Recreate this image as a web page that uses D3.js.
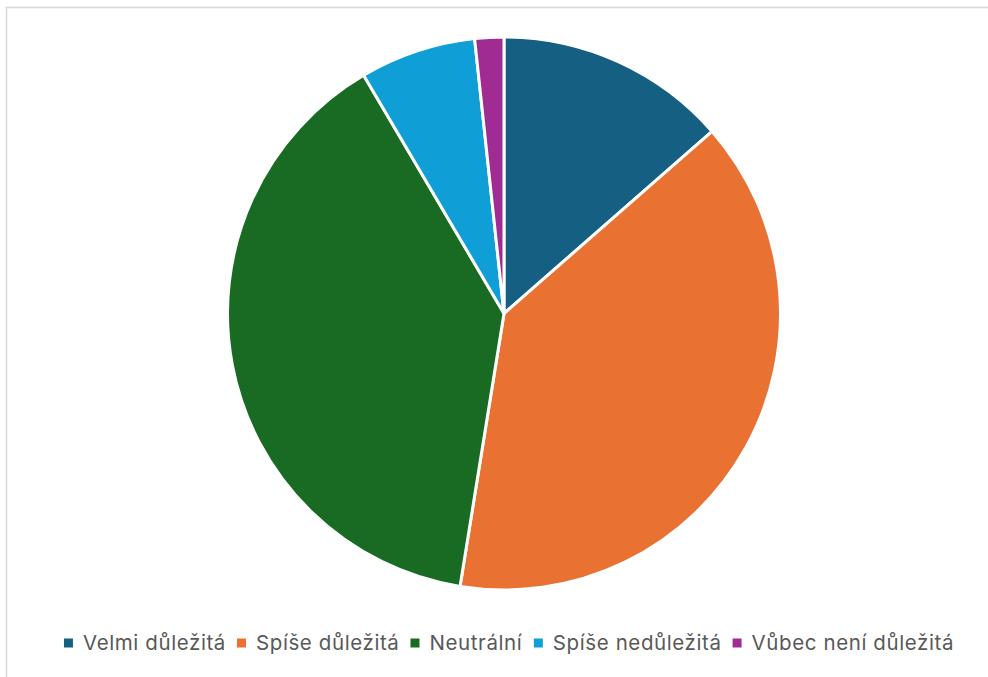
<!DOCTYPE html>
<html><head><meta charset="utf-8">
<script src="https://cdn.jsdelivr.net/npm/d3@7"></script>
<style>body{margin:0;background:#fff}svg{display:block}</style>
</head><body>
<script>
const categories = ["Velmi důležitá","Spíše důležitá","Neutrální","Spíše nedůležitá","Vůbec není důležitá"];
const values = [8,23,23,4,1];
const colors = ["#156082","#E97132","#196B24","#0F9ED5","#A02B93"];

const W=988,H=677;
const svg=d3.select("body").append("svg").attr("width",W).attr("height",H);
svg.append("rect").attr("x",6.5).attr("y",7.5).attr("width",1000).attr("height",1000)
  .attr("fill","#fff").attr("stroke","#d9d9d9").attr("stroke-width",1.5);

const cx=504, cy=313.5, r=276.5;
const pie=d3.pie().sort(null).value(d=>d);
const arc=d3.arc().innerRadius(0).outerRadius(r);
const color=d3.scaleOrdinal().domain(categories).range(colors);
svg.append("g").attr("transform",`translate(${cx},${cy})`)
  .selectAll("path").data(pie(values)).join("path")
  .attr("d",arc).attr("fill",(d,i)=>color(categories[i]))
  .attr("stroke","#fff").attr("stroke-width",3).attr("stroke-linejoin","round");

const lg=svg.append("g").attr("font-family","Inter, 'Open Sans', sans-serif").attr("font-size",20.5).attr("letter-spacing",0.6).attr("fill","#595959");
let x=0;
categories.forEach((c,i)=>{
  const g=lg.append("g").attr("transform",`translate(${x},0)`);
  g.append("rect").attr("x",0).attr("y",-4.5).attr("width",9).attr("height",9).attr("fill",color(c));
  const t=g.append("text").attr("x",19).attr("y",0).attr("dy","0.35em").text(c);
  const w=t.node().getBBox().width;
  x+=19+w+11;
});
const total=x-11;
lg.attr("transform",`translate(${66+(886-total)/2},643)`);
</script>
</body></html>
